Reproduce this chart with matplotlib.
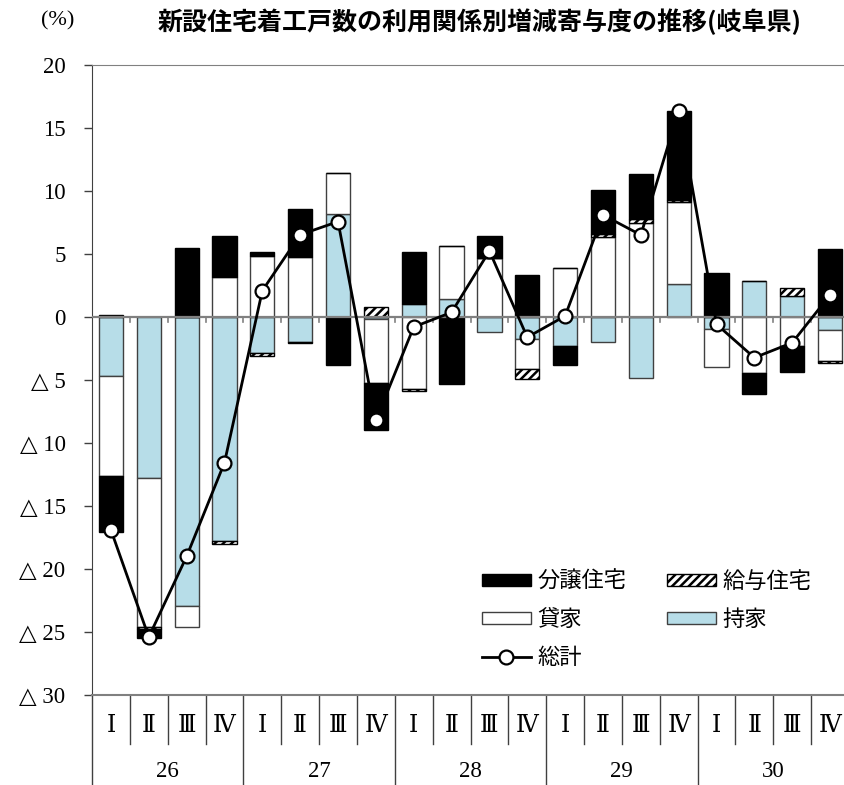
import matplotlib
matplotlib.use('Agg')
import matplotlib.pyplot as plt
from matplotlib.patches import Patch
from matplotlib.lines import Line2D
import numpy as np

plt.rcParams['font.family'] = ['Noto Sans CJK JP', 'DejaVu Sans']
plt.rcParams['hatch.linewidth'] = 1.8

# 年・四半期
years = ['26', '27', '28', '29', '30']
quarters = ['Ⅰ', 'Ⅱ', 'Ⅲ', 'Ⅳ']

# 寄与度 (%)
mochiie = [-4.68, -12.8, -22.9, -17.75, -2.88, -1.96, 8.2, -0.15, 1.0, 1.43,
           -1.21, -1.72, -2.3, -1.96, -4.87, 2.65, -0.95, 2.88, 1.67, -1.03]
kashiya = [-7.92, -11.8, -1.7, 3.2, 4.84, 4.79, 3.2, -5.05, -5.74, 4.23,
           4.71, -2.43, 3.86, 6.37, 7.49, 6.45, -3.04, -4.47, -2.3, -2.46]
kyuyo = [0.15, -0.2, 0.0, -0.3, -0.19, -0.1, 0.0, 0.77, -0.13, 0.0,
         0.0, -0.79, 0.0, 0.19, 0.29, 0.19, 0.05, 0.0, 0.63, -0.18]
bunjo = [-4.5, -0.65, 5.5, 3.25, 0.29, 3.78, -3.84, -3.77, 4.16, -5.34,
         1.69, 3.33, -1.54, 3.49, 3.57, 7.09, 3.41, -1.64, -2.09, 5.37]
soukei = [-16.9, -25.4, -19.0, -11.56, 2.09, 6.53, 7.57, -8.2, -0.79, 0.37,
          5.24, -1.61, 0.08, 8.1, 6.51, 16.38, -0.58, -3.23, -2.04, 1.75]

series = [
    ('持家', mochiie, dict(facecolor='#b7dde8', edgecolor='#404040')),
    ('貸家', kashiya, dict(facecolor='white', edgecolor='#404040')),
    ('給与住宅', kyuyo, dict(facecolor='white', edgecolor='black', hatch='////')),
    ('分譲住宅', bunjo, dict(facecolor='black', edgecolor='black')),
]

n = len(soukei)
x = np.arange(n)

fig = plt.figure(figsize=(8.45, 7.85), dpi=100)
ax = fig.add_axes([92 / 845, 90 / 785, 757 / 845, 630 / 785])

pos_base = np.zeros(n)
neg_base = np.zeros(n)
for name, vals, style in series:
    v = np.array(vals)
    bottom = np.where(v >= 0, pos_base, neg_base)
    ax.bar(x, v, width=0.64, bottom=bottom, linewidth=1.0, zorder=2, **style)
    pos_base = pos_base + np.where(v >= 0, v, 0)
    neg_base = neg_base + np.where(v < 0, v, 0)

ax.axhline(0, color='#808080', linewidth=1.6, zorder=3)
for b in np.arange(0.5, n - 0.5, 1.0):
    ax.plot([b, b], [0, -0.4], color='#808080', linewidth=1.2, zorder=3)

ax.plot(x, soukei, color='black', linewidth=2, marker='o', markersize=10,
        markerfacecolor='white', markeredgecolor='black', markeredgewidth=1.6,
        zorder=4)

ax.set_xlim(-0.5, n - 0.5)
ax.set_ylim(-30, 20)
yt = np.arange(-30, 21, 5)
ylabels = [str(v) if v >= 0 else '△ ' + str(-v) for v in yt]
ax.set_yticks(yt)
ax.set_yticklabels(ylabels, family=['Liberation Serif', 'DejaVu Sans'], fontsize=16.5)
ax.tick_params(axis='y', direction='out', length=6, width=1, pad=13, color='#404040')
ax.set_xticks([])

for s in ['top', 'bottom', 'right']:
    ax.spines[s].set_color('#808080')
ax.spines['bottom'].set_linewidth(1.5)
ax.spines['left'].set_color('#404040')

# 表形式の横軸ラベル
tr = ax.get_xaxis_transform()
for i in range(n):
    ax.text(x[i], -0.049, quarters[i % 4], transform=tr, ha='center', va='center',
            fontsize=17, family=['DejaVu Serif', 'Noto Sans CJK JP'])
for k, yr in enumerate(years):
    ax.text(4 * k + 1.5, -0.122, yr, transform=tr, ha='center', va='center',
            fontsize=16.5, family=['Liberation Serif', 'DejaVu Serif'])
for b in np.arange(-0.5, n - 0.5, 1.0):
    idx = int(b + 0.5)
    low = -0.15 if idx % 4 == 0 else -0.078
    ax.plot([b, b], [0, low], transform=tr, color='#404040',
            linewidth=1.0, clip_on=False)

# 凡例
h_bunjo = Patch(facecolor='black', edgecolor='black')
h_kashiya = Patch(facecolor='white', edgecolor='#404040')
h_soukei = Line2D([], [], color='black', linewidth=2, marker='o', markersize=10,
                  markerfacecolor='white', markeredgecolor='black', markeredgewidth=1.6)
h_kyuyo = Patch(facecolor='white', edgecolor='black', hatch='////')
h_mochi = Patch(facecolor='#b7dde8', edgecolor='#404040')
ax.legend([h_bunjo, h_kashiya, h_soukei, h_kyuyo, h_mochi],
          ['分譲住宅', '貸家', '総計', '給与住宅', '持家'],
          ncol=2, frameon=False, fontsize=16, loc='upper left',
          bbox_to_anchor=(482 / 845, 1 - 570 / 785), bbox_transform=fig.transFigure,
          borderpad=0, borderaxespad=0, handlelength=2.2, handleheight=0.48,
          handletextpad=0.28, columnspacing=1.85, labelspacing=0.68)

fig.text(480 / 845, 1 - 22 / 785, '新設住宅着工戸数の利用関係別増減寄与度の推移(岐阜県)',
         ha='center', va='center', fontsize=18, fontweight='bold')
fig.text(58 / 845, 1 - 21 / 785, '(%)', ha='center', va='center', fontsize=16,
         family=['Liberation Serif', 'DejaVu Serif'])

fig.savefig('out.png', dpi=100)
